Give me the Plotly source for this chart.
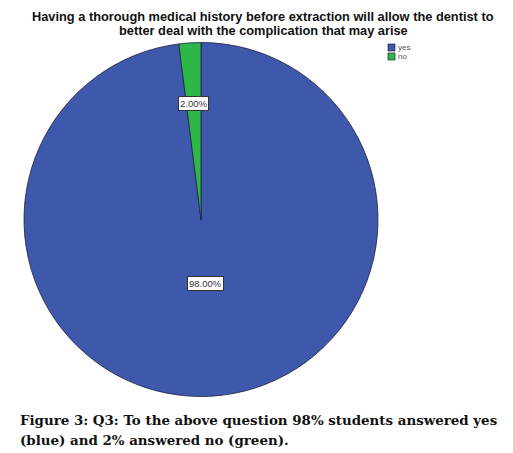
import math
import plotly.graph_objects as go

# Survey answers for Q3
labels = ["yes", "no"]
percentages = [98.0, 2.0]
colors = ["#3E58AC", "#2EB848"]

title_lines = [
    "Having a thorough medical history before extraction will allow the dentist to",
    "better deal with the complication that may arise",
]
caption_lines = [
    "Figure 3: Q3: To the above question 98% students answered yes",
    "(blue) and 2% answered no (green).",
]

W, H = 513, 453
dom_x = [24 / W, 378 / W]
dom_y = [1 - 397 / H, 1 - 42 / H]
edge = "#1c2040"

fig = go.Figure(
    go.Pie(
        labels=labels,
        values=percentages,
        sort=False,
        direction="clockwise",
        rotation=0,
        marker=dict(colors=colors, line=dict(color=edge, width=0.8)),
        textinfo="none",
        hoverinfo="label+percent",
        domain=dict(x=dom_x, y=dom_y),
        showlegend=False,
    )
)

# Value labels placed along each slice's mid-angle
cx = (dom_x[0] + dom_x[1]) / 2 * W
cy = (1 - (dom_y[0] + dom_y[1]) / 2) * H
radius = (dom_x[1] - dom_x[0]) * W / 2
label_radius = {"yes": 0.36, "no": 0.70}
total = sum(percentages)
start = 0.0
annotations = []
for lab, val in zip(labels, percentages):
    mid = start + val / 2
    start += val
    ang = 2 * math.pi * mid / total  # clockwise from 12 o'clock
    r = label_radius[lab] * radius
    px = cx + r * math.sin(ang)
    py = cy - r * math.cos(ang)
    annotations.append(
        dict(
            x=px / W, y=1 - py / H, xref="paper", yref="paper",
            text=f"{val:.2f}%", showarrow=False,
            font=dict(family="Arial, Liberation Sans", size=9.5, color="#333333"),
            bgcolor="white", bordercolor="#333333", borderwidth=1, borderpad=1,
        )
    )

# Chart title (two centred lines)
for txt, yc in [(title_lines[0], 17), (title_lines[1], 30)]:
    annotations.append(
        dict(
            x=263 / W, y=1 - yc / H, xref="paper", yref="paper",
            text=f"<b>{txt}</b>", showarrow=False,
            font=dict(family="Arial, Liberation Sans", size=12.8, color="#111111"),
            xanchor="center", yanchor="middle",
        )
    )

# Compact legend: small colour squares with category names
shapes = []
for i, (lab, col) in enumerate(zip(labels, colors)):
    y0 = 44 + 9 * i
    shapes.append(
        dict(
            type="rect", xref="paper", yref="paper",
            x0=388 / W, x1=395 / W, y0=1 - (y0 + 7) / H, y1=1 - y0 / H,
            fillcolor=col, line=dict(color=edge, width=0.7),
        )
    )
    annotations.append(
        dict(
            x=396 / W, y=1 - (y0 + 3.5) / H, xref="paper", yref="paper",
            text=lab, showarrow=False, xanchor="left", yanchor="middle",
            font=dict(family="Arial, Liberation Sans", size=8, color="#555555"),
        )
    )

# Figure caption
for txt, yc in [(caption_lines[0], 420), (caption_lines[1], 440)]:
    annotations.append(
        dict(
            x=18 / W, y=1 - yc / H, xref="paper", yref="paper",
            text=f"<b>{txt}</b>", showarrow=False,
            font=dict(family="DejaVu Serif", size=13.4, color="#111111"),
            xanchor="left", yanchor="middle",
        )
    )

fig.update_layout(
    width=W,
    height=H,
    margin=dict(l=0, r=0, t=0, b=0),
    paper_bgcolor="white",
    plot_bgcolor="white",
    showlegend=False,
    annotations=annotations,
    shapes=shapes,
)

fig.write_html("out.html")
